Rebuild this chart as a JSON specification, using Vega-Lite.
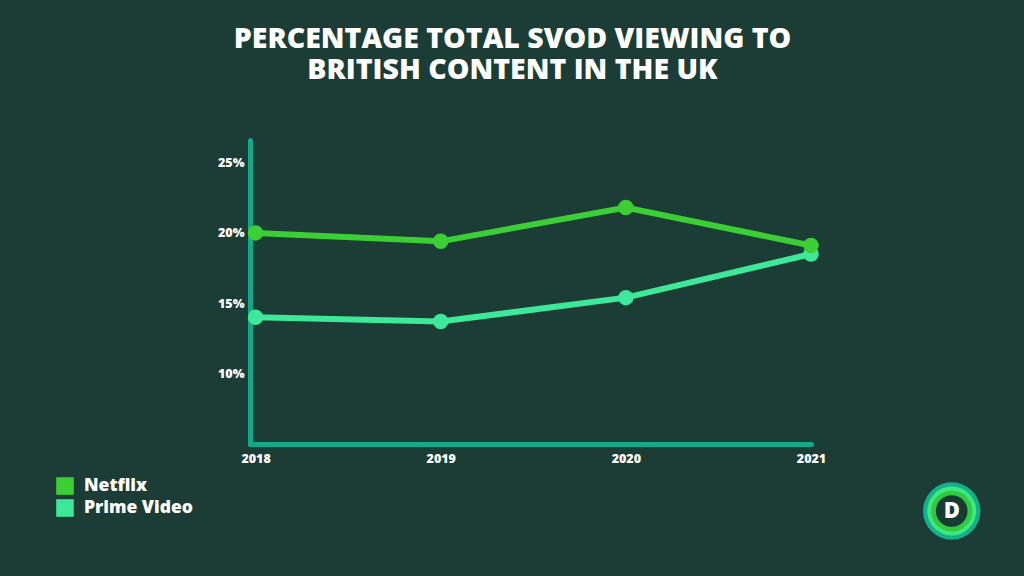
{
  "$schema": "https://vega.github.io/schema/vega-lite/v6.json",
  "width": 561,
  "height": 304,
  "autosize": {"type": "none"},
  "padding": {"left": 250, "top": 140, "right": 213, "bottom": 132},
  "background": "#1b3d35",
  "config": {
    "view": {"stroke": null},
    "font": "Open Sans"
  },
  "title": {
    "text": ["PERCENTAGE TOTAL SVOD VIEWING TO", "BRITISH CONTENT IN THE UK"],
    "color": "#ffffff",
    "font": "Open Sans",
    "fontSize": 28.5,
    "fontWeight": 800,
    "lineHeight": 31,
    "anchor": "middle",
    "dx": -18,
    "offset": 56
  },
  "layer": [
    {
      "data": {
        "values": [
          {"year": 2018, "series": "Prime Video", "value": 14.0},
          {"year": 2019, "series": "Prime Video", "value": 13.7},
          {"year": 2020, "series": "Prime Video", "value": 15.4},
          {"year": 2021, "series": "Prime Video", "value": 18.5},
          {"year": 2018, "series": "Netflix", "value": 20.0},
          {"year": 2019, "series": "Netflix", "value": 19.4},
          {"year": 2020, "series": "Netflix", "value": 21.8},
          {"year": 2021, "series": "Netflix", "value": 19.1}
        ]
      },
      "encoding": {
        "x": {
          "field": "year",
          "type": "quantitative",
          "scale": {"domain": [2017.97, 2021], "nice": false, "zero": false},
          "axis": {
            "title": null,
            "values": [2018, 2019, 2020, 2021],
            "format": "d",
            "grid": false,
            "ticks": false,
            "domainColor": "#12a98b",
            "domainWidth": 5,
            "domainCap": "round",
            "labelColor": "#ffffff",
            "labelFont": "Open Sans",
            "labelFontWeight": 800,
            "labelFontSize": 12.5,
            "labelPadding": 8,
            "labelFlush": false
          }
        },
        "y": {
          "field": "value",
          "type": "quantitative",
          "scale": {"domain": [5, 26.6], "nice": false, "zero": false},
          "axis": {
            "title": null,
            "values": [10, 15, 20, 25],
            "labelExpr": "datum.value + '%'",
            "grid": false,
            "ticks": false,
            "domainColor": "#12a98b",
            "domainWidth": 5,
            "domainCap": "round",
            "labelColor": "#ffffff",
            "labelFont": "Open Sans",
            "labelFontWeight": 800,
            "labelFontSize": 12.5,
            "labelPadding": 6
          }
        },
        "color": {
          "field": "series",
          "type": "nominal",
          "scale": {"domain": ["Netflix", "Prime Video"], "range": ["#3bcf35", "#3ee89b"]},
          "legend": {
            "title": null,
            "orient": "none",
            "legendX": -194,
            "legendY": 337,
            "symbolType": "square",
            "symbolSize": 310,
            "symbolStrokeWidth": 0,
            "symbolOpacity": 1,
            "labelColor": "#ffffff",
            "labelFont": "Open Sans",
            "labelFontWeight": 800,
            "labelFontSize": 17.5,
            "labelOffset": 10,
            "rowPadding": 4
          }
        }
      },
      "layer": [
        {"mark": {"type": "line", "strokeWidth": 6, "strokeCap": "round"}},
        {"mark": {"type": "point", "filled": true, "size": 240, "opacity": 1}}
      ]
    },
    {
      "data": {"name": "logo", "values": [{"x": 2021.76, "y": 0.24, "t": "D"}]},
      "encoding": {
        "x": {"field": "x", "type": "quantitative"},
        "y": {"field": "y", "type": "quantitative"}
      },
      "layer": [
        {"mark": {"type": "point", "filled": true, "opacity": 1, "clip": false, "size": 3300, "color": "#12b08c"}},
        {"mark": {"type": "point", "filled": true, "opacity": 1, "clip": false, "size": 2400, "color": "#3ee87a"}},
        {"mark": {"type": "point", "filled": true, "opacity": 1, "clip": false, "size": 1700, "color": "#2fc944"}},
        {"mark": {"type": "point", "filled": true, "opacity": 1, "clip": false, "size": 1000, "color": "#173a32"}},
        {
          "mark": {"type": "text", "color": "#ffffff", "font": "Open Sans", "fontWeight": 800, "fontSize": 22, "clip": false, "baseline": "middle", "align": "center"},
          "encoding": {"text": {"field": "t"}}
        }
      ]
    }
  ]
}
